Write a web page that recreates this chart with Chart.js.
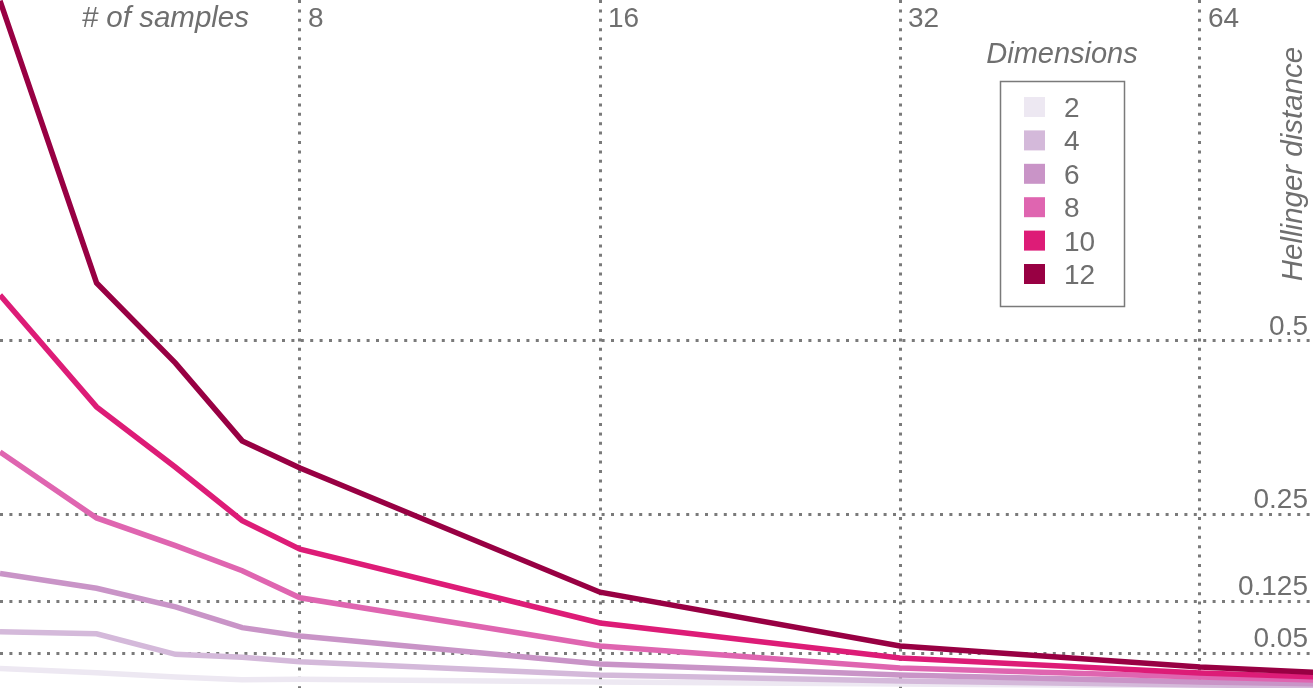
<!DOCTYPE html>
<html>
<head>
<meta charset="utf-8">
<script src="https://cdn.jsdelivr.net/npm/chart.js@4.4.1/dist/chart.umd.min.js"></script>
<style>
  html, body { margin: 0; padding: 0; background: #ffffff; }
  #wrap { width: 1313px; height: 688px; position: relative; }
</style>
</head>
<body>
<div id="wrap"><canvas id="c" width="1313" height="688"></canvas></div>
<script>
// ---- data ----
const samples = [4, 5, 6, 7, 8, 16, 32, 64, 128];
const dimLabels = ['2', '4', '6', '8', '10', '12'];
const dim2  = [0.028, 0.022, 0.016, 0.012, 0.0125, 0.0086, 0.0058, 0.0029, 0.0];
const dim4  = [0.081, 0.078, 0.0485, 0.0442, 0.0378, 0.0187, 0.0101, 0.0043, 0.001];
const dim6  = [0.165, 0.1437, 0.117, 0.0869, 0.0749, 0.0346, 0.0187, 0.0086, 0.002];
const dim8  = [0.340, 0.245, 0.205, 0.169, 0.130, 0.0605, 0.0288, 0.0158, 0.004];
const dim10 = [0.566, 0.405, 0.318, 0.241, 0.200, 0.0937, 0.0432, 0.0216, 0.007];
const dim12 = [0.99, 0.5835, 0.468, 0.356, 0.317, 0.138, 0.0605, 0.0303, 0.010];
const xTicks = [8, 16, 32, 64];
const xTickLabels = ['8', '16', '32', '64'];
const yTicks = [0.05, 0.125, 0.25, 0.5];
const yTickLabels = ['0.05', '0.125', '0.25', '0.5'];
const xTitle = '# of samples';
const yTitle = 'Hellinger distance';
const legendTitle = 'Dimensions';

// ---- styling ----
const colors = ['#ede8f2', '#d4b9da', '#c994c7', '#df65b0', '#dd1c77', '#980043'];
const textColor = '#6f6f6f';
const gridColor = '#7a7a7a';
const FONT = '"Liberation Sans", Arial, Helvetica, sans-serif';

const series = [dim2, dim4, dim6, dim8, dim10, dim12];
const datasets = series.map((vals, i) => ({
  label: dimLabels[i],
  data: vals.map((v, j) => ({ x: samples[j], y: v })),
  borderColor: colors[i],
  backgroundColor: colors[i],
  borderWidth: 5.5,
  pointRadius: 0,
  tension: 0,
  fill: false,
  order: series.length - i
}));

const overlay = {
  id: 'overlay',
  afterDraw(chart) {
    const ctx = chart.ctx;
    const xs = chart.scales.x, ys = chart.scales.y;
    ctx.save();
    ctx.fillStyle = textColor;
    ctx.textBaseline = 'alphabetic';

    // x tick labels (top, right of gridline)
    ctx.font = '28px ' + FONT;
    ctx.textAlign = 'left';
    xTicks.forEach((v, i) => {
      ctx.fillText(xTickLabels[i], xs.getPixelForValue(v) + 8, 27);
    });
    // x title
    ctx.font = 'italic 29.5px ' + FONT;
    ctx.textAlign = 'right';
    ctx.fillText(xTitle, xs.getPixelForValue(xTicks[0]) - 51, 27);

    // y tick labels (right, above gridline)
    ctx.font = '28px ' + FONT;
    ctx.textAlign = 'right';
    yTicks.forEach((v, i) => {
      ctx.fillText(yTickLabels[i], 1308, ys.getPixelForValue(v) - 6);
    });

    // y title rotated
    ctx.save();
    ctx.font = 'italic 29.5px ' + FONT;
    ctx.translate(1302, 164);
    ctx.rotate(-Math.PI / 2);
    ctx.textAlign = 'center';
    ctx.fillText(yTitle, 0, 0);
    ctx.restore();

    // legend
    ctx.font = 'italic 29px ' + FONT;
    ctx.textAlign = 'center';
    ctx.fillText(legendTitle, 1062, 63);
    ctx.lineWidth = 1.5;
    ctx.strokeStyle = gridColor;
    ctx.strokeRect(1000.5, 81.5, 124, 225);
    ctx.font = '28px ' + FONT;
    ctx.textAlign = 'left';
    dimLabels.forEach((lab, i) => {
      const base = 117 + i * 33.4;
      ctx.fillStyle = colors[i];
      ctx.fillRect(1024, base - 20, 21, 20);
      ctx.fillStyle = textColor;
      ctx.fillText(lab, 1064, base);
    });
    ctx.restore();
  }
};

new Chart(document.getElementById('c'), {
  type: 'line',
  data: { datasets },
  options: {
    responsive: false,
    animation: false,
    layout: { padding: 0 },
    plugins: { legend: { display: false }, tooltip: { enabled: false } },
    scales: {
      x: {
        type: 'logarithmic',
        position: 'top',
        min: 4,
        max: 4 * Math.pow(2, 1313 / 300),
        afterBuildTicks(s) { s.ticks = xTicks.map(v => ({ value: v })); },
        afterFit(s) { s.height = 0; },
        ticks: { display: false },
        grid: { color: gridColor, lineWidth: 3, drawTicks: false },
        border: { display: false, dash: [3, 6.4] }
      },
      y: {
        type: 'linear',
        position: 'right',
        min: 0,
        max: 0.9912,
        afterBuildTicks(s) { s.ticks = yTicks.map(v => ({ value: v })); },
        afterFit(s) { s.width = 0; },
        ticks: { display: false },
        grid: { color: gridColor, lineWidth: 3, drawTicks: false },
        border: { display: false, dash: [3, 6.4] }
      }
    }
  },
  plugins: [overlay]
});
</script>
</body>
</html>
